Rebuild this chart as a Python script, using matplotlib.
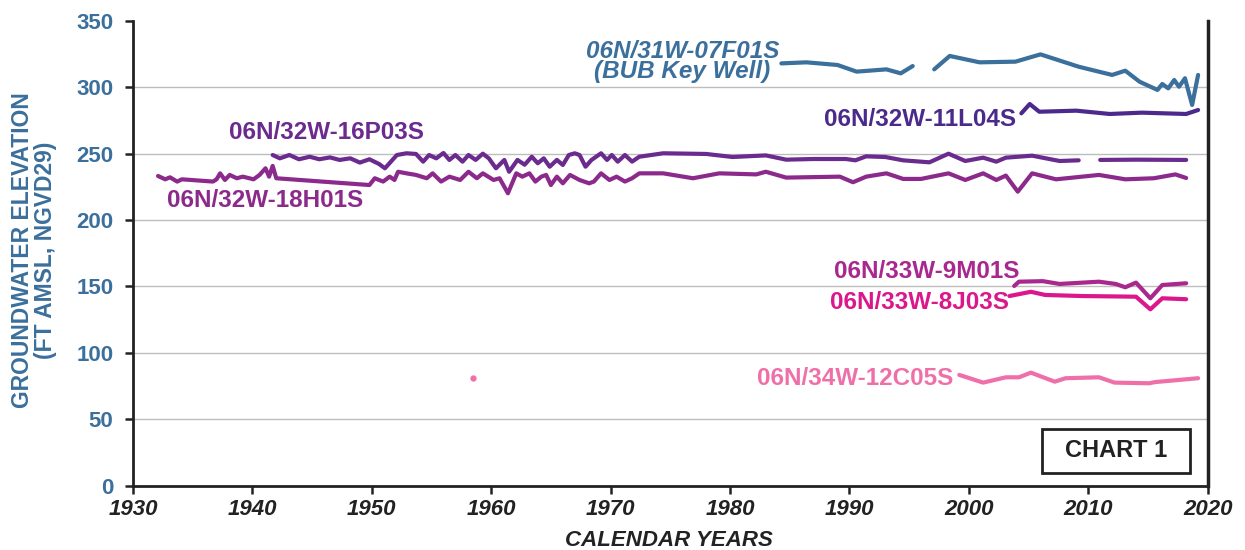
import numpy as np
import matplotlib
matplotlib.use("Agg")
import matplotlib.pyplot as plt
import matplotlib.patches as patches

plt.rcParams['font.family'] = ['Liberation Sans', 'DejaVu Sans']

# well 06N/31W-07F01S (BUB key well)
f07_years = [1984.3, 1986.4, 1989.0, 1990.6, 1993.1, 1994.3, 1995.3, np.nan,
             1997.1, 1998.4, 2000.9, 2003.9, 2006.0, 2009.2, 2012.0, 2013.1,
             2014.3, 2015.8, 2016.2, 2016.7, 2017.2, 2017.6, 2018.1, 2018.7, 2019.2]
f07_elev = [318, 318.8, 316.8, 311.8, 313.5, 310.5, 316, np.nan,
            313.5, 323.6, 318.8, 319.3, 324.8, 315.5, 309.3, 312.5,
            304.2, 298, 302.5, 299.2, 305.5, 300.4, 306.8, 286.7, 309.3]

# well 06N/32W-11L04S
l04_years = [2004.4, 2005.1, 2005.9, 2009.0, 2011.8, 2014.5, 2018.2, 2019.2]
l04_elev = [280.4, 287.4, 281.6, 282.4, 279.9, 280.9, 279.9, 282.9]

# well 06N/32W-16P03S
p16_years = [1941.7, 1942.3, 1943.1, 1943.9, 1944.8, 1945.6, 1946.5, 1947.3, 1948.2,
             1949.0, 1949.8, 1950.6, 1951.1, 1951.6, 1952.1, 1952.9, 1953.7, 1954.3,
             1954.8, 1955.4, 1956.0, 1956.5, 1957.0, 1957.6, 1958.1, 1958.7, 1959.3,
             1959.8, 1960.4, 1961.1, 1961.5, 1962.2, 1962.8, 1963.4, 1963.9, 1964.4,
             1964.9, 1965.5, 1966.0, 1966.5, 1967.0, 1967.4, 1967.9, 1968.4, 1969.2,
             1969.7, 1970.1, 1970.6, 1971.2, 1971.8, 1972.4, 1974.4, 1978.0, 1980.2,
             1983.0, 1984.7, 1987.0, 1989.7, 1990.5, 1991.4, 1993.0, 1994.5, 1996.7,
             1998.3, 1999.7, 2001.2, 2002.3, 2003.1, 2005.3, 2007.6, 2009.2, np.nan,
             2011.0, 2014.0, 2018.2]
p16_elev = [249.0, 246.5, 249.0, 245.8, 247.7, 245.8, 247.2, 245.3, 246.5,
            243.3, 245.8, 242.3, 239.0, 244.0, 249.0, 250.3, 249.8, 244.0,
            249.0, 246.5, 250.5, 245.3, 249.0, 244.0, 249.0, 245.3, 250.0,
            246.5, 239.0, 245.3, 236.4, 245.3, 241.7, 247.7, 242.8, 246.5,
            240.2, 245.3, 241.5, 249.0, 250.3, 249.0, 240.2, 245.3, 250.3,
            245.3, 249.0, 244.0, 249.0, 244.0, 247.7, 250.3, 249.8, 247.5,
            248.7, 245.5, 246.0, 246.0, 245.0, 248.0, 247.5, 245.0, 243.5,
            250.0, 244.5, 247.0, 244.0, 247.0, 248.5, 244.5, 245.0, np.nan,
            245.3, 245.5, 245.3]

# well 06N/32W-18H01S
h18_years = [1932.1, 1932.7, 1933.1, 1933.7, 1934.1, 1936.7, 1937.0, 1937.3, 1937.7,
             1938.1, 1938.7, 1939.2, 1940.1, 1940.6, 1941.1, 1941.4, 1941.7, 1942.0,
             1949.8, 1950.25, 1950.95, 1951.5, 1951.9, 1952.2, 1952.9, 1953.7, 1954.6,
             1955.1, 1955.8, 1956.5, 1957.4, 1958.1, 1958.8, 1959.3, 1960.2, 1960.7,
             1961.4, 1962.1, 1962.6, 1963.2, 1963.7, 1964.2, 1964.6, 1965.0, 1965.5,
             1966.0, 1966.6, 1967.4, 1968.2, 1968.6, 1969.2, 1969.9, 1970.5, 1971.2,
             1971.8, 1972.4, 1974.4, 1976.9, 1979.1, 1982.2, 1983.0, 1984.7, 1989.2,
             1990.3, 1991.4, 1993.1, 1994.5, 1996.0, 1998.3, 1999.7, 2001.2, 2002.3,
             2003.1, 2004.1, 2005.3, 2007.3, 2010.9, 2013.1, 2015.5, 2017.3, 2018.2]
h18_elev = [233.2, 230.7, 232.2, 229.0, 230.7, 229.0, 230.7, 235.2, 230.2,
            234.0, 231.5, 232.7, 230.7, 234.0, 239.0, 232.7, 240.8, 231.5,
            226.4, 231.5, 229.0, 232.7, 230.2, 236.4, 235.2, 234.0, 231.5,
            235.2, 229.0, 232.7, 230.2, 236.4, 231.5, 235.2, 230.2, 231.5,
            220.2, 235.2, 232.7, 235.2, 229.0, 232.7, 234.0, 226.4, 232.7,
            227.7, 234.0, 230.2, 227.7, 229.0, 235.2, 230.2, 232.7, 229.0,
            231.5, 235.2, 235.2, 231.5, 235.2, 234.4, 236.4, 232.0, 232.7,
            228.5, 232.7, 235.2, 231.0, 231.0, 235.2, 230.2, 235.2, 230.2,
            233.5, 221.4, 235.2, 230.7, 234.0, 230.7, 231.5, 234.4, 231.7]

# well 06N/33W-9M01S
m09_years = [2003.8, 2004.2, 2006.2, 2007.6, 2010.9, 2012.3, 2013.1, 2014.0, 2015.2, 2016.2, 2018.2]
m09_elev = [150.4, 153.6, 154.0, 151.9, 153.6, 151.9, 149.4, 152.9, 141.1, 151.1, 152.4]

# well 06N/33W-8J03S
j08_years = [2003.4, 2005.2, 2006.4, 2009.5, 2014.0, 2015.2, 2016.2, 2018.2]
j08_elev = [142.8, 146.0, 143.6, 142.8, 142.3, 132.8, 141.1, 140.4]

# well 06N/34W-12C05S
c12_years = [1999.2, 2001.2, 2003.1, 2004.2, 2005.2, 2007.2, 2008.1, 2010.9, 2012.2, 2015.1, 2015.6, 2019.2]
c12_elev = [83.4, 77.6, 81.6, 81.6, 85.1, 78.3, 80.9, 81.6, 77.6, 77.1, 78.0, 80.9]
c12_single_year = [1958.5]
c12_single_elev = [80.9]

blue = '#3b6f9c'
c_l04 = '#4b2a8c'
c_p16 = '#6b2a8e'
c_h18 = '#8c2a8c'
c_m09 = '#a8288e'
c_j08 = '#db178c'
c_c12 = '#ef70a9'

fig = plt.figure(figsize=(12.45, 5.5), dpi=100)
ax = fig.add_axes([0.1068, 0.117, 0.8632, 0.845])

lw = 3
ax.plot(f07_years, f07_elev, color=blue, lw=lw, solid_capstyle='round', solid_joinstyle='round')
ax.plot(l04_years, l04_elev, color=c_l04, lw=lw, solid_capstyle='round', solid_joinstyle='round')
ax.plot(p16_years, p16_elev, color=c_p16, lw=lw, solid_capstyle='round', solid_joinstyle='round')
ax.plot(h18_years, h18_elev, color=c_h18, lw=lw, solid_capstyle='round', solid_joinstyle='round')
ax.plot(m09_years, m09_elev, color=c_m09, lw=lw, solid_capstyle='round', solid_joinstyle='round')
ax.plot(j08_years, j08_elev, color=c_j08, lw=lw, solid_capstyle='round', solid_joinstyle='round')
ax.plot(c12_years, c12_elev, color=c_c12, lw=lw, solid_capstyle='round', solid_joinstyle='round')
ax.plot(c12_single_year, c12_single_elev, 'o', color=c_c12, ms=3.5)

lab = dict(fontsize=17.5, fontweight='bold', ha='center', va='center')
ax.text(1976.0, 319.4, "06N/31W-07F01S\n(BUB Key Well)", color=blue, style='italic',
        linespacing=0.85, **lab)
ax.text(1995.9, 275.4, "06N/32W-11L04S", color=c_l04, **lab)
ax.text(1946.2, 265.9, "06N/32W-16P03S", color=c_p16, **lab)
ax.text(1941.1, 215.1, "06N/32W-18H01S", color=c_h18, **lab)
ax.text(1996.5, 160.9, "06N/33W-9M01S", color=c_m09, **lab)
ax.text(1995.9, 138.3, "06N/33W-8J03S", color=c_j08, **lab)
ax.text(1990.5, 81.0, "06N/34W-12C05S", color=c_c12, **lab)

# chart tag
ax.add_patch(patches.Rectangle((2006.1, 9.6), 12.4, 33.1, fill=False, edgecolor='#222222', lw=2, zorder=5))
ax.text(2012.3, 26.3, "CHART 1", fontsize=17, fontweight='bold', color='#222222', ha='center', va='center')

ax.set_xlim(1930, 2020)
ax.set_ylim(0, 350)
ax.set_xticks(np.arange(1930, 2021, 10))
ax.set_yticks(np.arange(0, 351, 50))
for y in range(50, 350, 50):
    ax.axhline(y, color='#bdbdbd', lw=1, zorder=0)

ax.spines['top'].set_visible(False)
for s in ['left', 'bottom', 'right']:
    ax.spines[s].set_linewidth(2)
    ax.spines[s].set_color('#222222')
ax.spines['right'].set_linewidth(2.5)
ax.tick_params(axis='both', direction='out', length=6, width=1.8, color='#222222')
ax.tick_params(axis='y', pad=8)
for t in ax.get_yticklabels():
    t.set_fontsize(16)
    t.set_fontweight('bold')
    t.set_color(blue)
for t in ax.get_xticklabels():
    t.set_fontsize(16)
    t.set_fontweight('bold')
    t.set_style('italic')
    t.set_color('#222222')

fig.text(0.027, 0.545, "GROUNDWATER ELEVATION\n(FT AMSL, NGVD29)", rotation=90, ha='center', va='center',
         fontsize=16.5, fontweight='bold', color=blue, linespacing=1.0)
fig.text(0.537, 0.018, "CALENDAR YEARS", ha='center', va='center', fontsize=16,
         fontweight='bold', style='italic', color='#222222')

plt.savefig("out.png", dpi=100)
